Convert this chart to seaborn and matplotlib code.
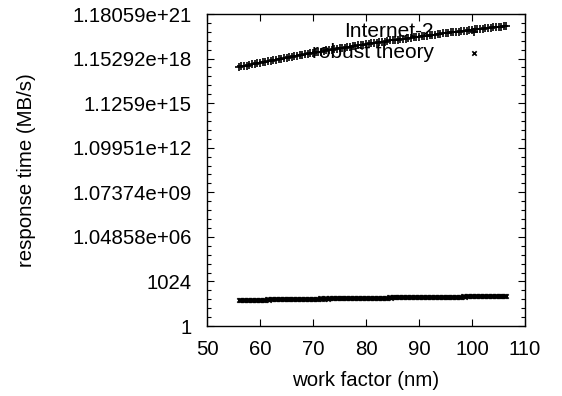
import matplotlib
matplotlib.use("Agg")
import matplotlib.pyplot as plt
import seaborn as sns
import pandas as pd
import numpy as np

# Internet-2 series
inet_x = [56, 56.5, 57, 57.5, 58, 58.5, 59, 59.5, 60, 60.5, 61, 61.5, 62, 62.5, 63, 63.5,
          64, 64.5, 65, 65.5, 66, 66.5, 67, 67.5, 68, 68.5, 69, 69.5, 70, 70.5, 71, 71.5,
          72, 72.5, 73, 73.5, 74, 74.5, 75, 75.5, 76, 76.5, 77, 77.5, 78, 78.5, 79, 79.5,
          80, 80.5, 81, 81.5, 82, 82.5, 83, 83.5, 84, 84.5, 85, 85.5, 86, 86.5, 87, 87.5,
          88, 88.5, 89, 89.5, 90, 90.5, 91, 91.5, 92, 92.5, 93, 93.5, 94, 94.5, 95, 95.5,
          96, 96.5, 97, 97.5, 98, 98.5, 99, 99.5, 100, 100.5, 101, 101.5, 102, 102.5, 103,
          103.5, 104, 104.5, 105, 105.5, 106, 106.5]
inet_y = [3.03e17, 3.45e17, 3.62e17, 3.80e17, 4.31e17, 4.90e17, 5.11e17, 5.40e17, 6.05e17, 6.80e17,
          7.13e17, 7.50e17, 8.39e17, 9.40e17, 9.85e17, 1.02e18, 1.15e18, 1.30e18, 1.35e18, 1.40e18,
          1.57e18, 1.75e18, 1.82e18, 1.90e18, 2.11e18, 2.35e18, 2.45e18, 2.55e18, 2.82e18, 3.15e18,
          3.26e18, 3.35e18, 3.74e18, 4.15e18, 4.30e18, 4.45e18, 4.92e18, 5.45e18, 5.63e18, 5.85e18,
          6.43e18, 7.10e18, 7.33e18, 7.60e18, 8.34e18, 9.20e18, 9.47e18, 9.80e18, 1.07e19, 1.18e19,
          1.22e19, 1.25e19, 1.37e19, 1.52e19, 1.55e19, 1.60e19, 1.75e19, 1.93e19, 1.97e19, 2.02e19,
          2.21e19, 2.42e19, 2.48e19, 2.55e19, 2.79e19, 3.05e19, 3.12e19, 3.20e19, 3.49e19, 3.80e19,
          3.89e19, 4.00e19, 4.34e19, 4.75e19, 4.84e19, 4.95e19, 5.39e19, 5.90e19, 5.99e19, 6.10e19,
          6.65e19, 7.25e19, 7.37e19, 7.55e19, 8.17e19, 8.90e19, 9.04e19, 9.25e19, 1.00e20, 1.09e20,
          1.10e20, 1.13e20, 1.22e20, 1.32e20, 1.34e20, 1.37e20, 1.48e20, 1.60e20, 1.63e20, 1.67e20,
          1.79e20, 1.88e20]

# robust theory series
rt_x = [56, 56.25, 56.5, 56.75, 57, 57.25, 57.5, 57.75, 58, 58.25, 58.5, 58.75, 59, 59.25, 59.5, 59.75,
        60, 60.25, 60.5, 60.75, 61, 61.25, 61.5, 61.75, 62, 62.25, 62.5, 62.75, 63, 63.25, 63.5, 63.75,
        64, 64.25, 64.5, 64.75, 65, 65.25, 65.5, 65.75, 66, 66.25, 66.5, 66.75, 67, 67.25, 67.5, 67.75,
        68, 68.25, 68.5, 68.75, 69, 69.25, 69.5, 69.75, 70, 70.25, 70.5, 70.75, 71, 71.25, 71.5, 71.75,
        72, 72.25, 72.5, 72.75, 73, 73.25, 73.5, 73.75, 74, 74.25, 74.5, 74.75, 75, 75.25, 75.5, 75.75,
        76, 76.25, 76.5, 76.75, 77, 77.25, 77.5, 77.75, 78, 78.25, 78.5, 78.75, 79, 79.25, 79.5, 79.75,
        80, 80.25, 80.5, 80.75, 81, 81.25, 81.5, 81.75, 82, 82.25, 82.5, 82.75, 83, 83.25, 83.5, 83.75,
        84, 84.25, 84.5, 84.75, 85, 85.25, 85.5, 85.75, 86, 86.25, 86.5, 86.75, 87, 87.25, 87.5, 87.75,
        88, 88.25, 88.5, 88.75, 89, 89.25, 89.5, 89.75, 90, 90.25, 90.5, 90.75, 91, 91.25, 91.5, 91.75,
        92, 92.25, 92.5, 92.75, 93, 93.25, 93.5, 93.75, 94, 94.25, 94.5, 94.75, 95, 95.25, 95.5, 95.75,
        96, 96.25, 96.5, 96.75, 97, 97.25, 97.5, 97.75, 98, 98.25, 98.5, 98.75, 99, 99.25, 99.5, 99.75,
        100, 100.25, 100.5, 100.75, 101, 101.25, 101.5, 101.75, 102, 102.25, 102.5, 102.75, 103, 103.25,
        103.5, 103.75, 104, 104.25, 104.5, 104.75, 105, 105.25, 105.5, 105.75, 106, 106.25, 106.5]
rt_y = [56.8, 55.4, 55.9, 57.3, 57.6, 56.5, 57.1, 58.4, 58.9, 57.6, 58.2, 59.8, 59.4, 58.7, 60.3, 59.1,
        59.7, 61.0, 61.2, 60.1, 60.6, 62.1, 62.0, 61.0, 61.8, 63.0, 63.1, 61.9, 62.4, 64.0, 64.2, 63.0,
        63.5, 65.1, 65.0, 63.9, 64.6, 66.0, 66.2, 64.8, 65.4, 67.2, 67.1, 65.9, 66.3, 68.1, 68.0, 66.8,
        67.4, 69.0, 69.2, 67.9, 68.5, 70.2, 70.1, 68.8, 69.6, 71.1, 71.0, 69.7, 70.4, 72.0, 72.3, 70.9,
        71.5, 73.2, 73.0, 71.8, 72.6, 74.0, 74.1, 72.7, 73.3, 75.1, 75.2, 73.8, 74.5, 76.2, 76.0, 74.9,
        75.6, 77.1, 77.3, 75.8, 76.4, 78.0, 78.2, 76.9, 77.5, 79.2, 79.1, 77.7, 78.6, 80.0, 80.2, 78.8,
        79.4, 81.3, 81.1, 79.9, 80.6, 82.1, 82.3, 80.8, 81.5, 83.2, 83.0, 81.7, 82.7, 84.0, 84.1, 82.9,
        83.4, 85.3, 85.2, 83.8, 84.6, 86.1, 86.0, 84.7, 85.5, 87.2, 87.3, 85.9, 86.4, 88.0, 88.1, 86.8,
        87.6, 89.1, 89.2, 87.7, 88.5, 90.3, 90.1, 88.9, 89.6, 91.2, 91.3, 89.8, 90.4, 92.1, 92.0, 90.7,
        91.6, 93.0, 93.2, 91.9, 92.5, 94.2, 94.1, 92.6, 93.4, 95.0, 95.3, 93.9, 94.6, 96.1, 96.0, 94.8,
        95.5, 97.3, 97.2, 95.7, 96.6, 98.0, 98.1, 96.9, 97.4, 99.2, 99.3, 97.8, 98.5, 100.1, 100.2, 98.7,
        99.6, 101.2, 101.1, 99.8, 100.4, 102.0, 102.3, 100.9, 101.5, 103.1, 103.0, 101.7, 102.6, 104.3,
        104.2, 102.8, 103.4, 105.0, 105.1, 103.7, 104.6, 106.3, 106.2, 104.9, 105.5, 107.0, 107.3]

df1 = pd.DataFrame({"x": inet_x, "y": inet_y})
df2 = pd.DataFrame({"x": rt_x, "y": rt_y})

sns.set_style("ticks")
plt.rcParams["font.family"] = ["Liberation Sans", "DejaVu Sans"]
plt.rcParams["font.size"] = 14.7
plt.rcParams["text.color"] = "black"
plt.rcParams["axes.labelcolor"] = "black"

fig = plt.figure(figsize=(5.62, 3.96), dpi=100)
ax = fig.add_axes([207/562, 1-326/396, (525-207)/562, (326-14)/396])

sns.scatterplot(data=df1, x="x", y="y", marker="+", s=28, color="black",
                linewidth=1.2, ax=ax, label="Internet-2")
sns.scatterplot(data=df2, x="x", y="y", marker="x", s=10, color="black",
                linewidth=1.2, ax=ax, label="robust theory")

ax.set_yscale("log", base=2)
ax.set_ylim(1.0, 2.0**70)
ax.set_xlim(50, 110)
ax.set_xticks([50, 60, 70, 80, 90, 100, 110])
majors = [2.0**k for k in range(0, 71, 10)]
ax.set_yticks(majors)
ax.set_yticklabels(["{:g}".format(v) for v in majors])
ax.set_yticks([2.0**k for k in range(0, 71, 2) if k % 10 != 0], minor=True)
ax.yaxis.set_minor_formatter(matplotlib.ticker.NullFormatter())
ax.xaxis.set_minor_locator(matplotlib.ticker.NullLocator())
ax.tick_params(axis="both", which="both", direction="in", top=True, right=True,
               color="black", labelcolor="black")
ax.tick_params(axis="both", which="major", length=5, width=0.8, pad=10)
ax.tick_params(axis="y", which="major", pad=11)
ax.tick_params(axis="y", which="minor", length=3, width=0.8)
for sp in ax.spines.values():
    sp.set_visible(True)
    sp.set_linewidth(1.0)
    sp.set_color("black")

ax.set_xlabel("work factor (nm)", labelpad=9, color="black")
ax.set_ylabel("response time (MB/s)", labelpad=26, color="black")

leg = ax.legend(loc="upper right", bbox_to_anchor=(0.931, 1.0), frameon=False,
                markerfirst=False, handletextpad=0.92, labelspacing=0.1,
                borderaxespad=0, fontsize=15)
for t in leg.get_texts():
    t.set_color("black")

fig.savefig("out.png", dpi=100)
